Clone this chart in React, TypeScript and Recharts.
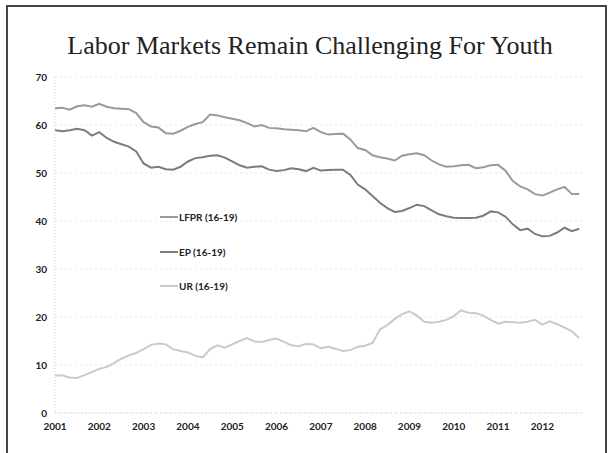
import { CartesianGrid, Legend, Line, LineChart, XAxis, YAxis } from 'recharts';

// bi-monthly readings, Jan 2001 .. Nov 2012
const startYear = 2001;
const stepYears = 2 / 12;

const years = [2001, 2002, 2003, 2004, 2005, 2006, 2007, 2008, 2009, 2010, 2011, 2012];
const yTicks = [0, 10, 20, 30, 40, 50, 60, 70];

const lfpr = [
  63.5, 63.6, 63.2, 63.9, 64.1, 63.8, 64.4, 63.8, 63.5, 63.4, 63.3, 62.5,
  60.6, 59.7, 59.5, 58.3, 58.2, 58.8, 59.6, 60.2, 60.6, 62.2, 62.0, 61.6,
  61.3, 61.0, 60.4, 59.7, 60.0, 59.4, 59.3, 59.1, 59.0, 58.9, 58.7, 59.4,
  58.5, 58.0, 58.1, 58.2, 57.0, 55.2, 54.8, 53.7, 53.3, 53.0, 52.6, 53.6,
  53.9, 54.1, 53.7, 52.6, 51.8, 51.3, 51.4, 51.6, 51.7, 51.0, 51.2, 51.6,
  51.7, 50.5, 48.3, 47.2, 46.6, 45.6, 45.3, 45.9, 46.6, 47.1, 45.6, 45.6,
];

const ep = [
  58.9, 58.7, 58.9, 59.2, 58.9, 57.8, 58.5, 57.3, 56.5, 56.0, 55.5, 54.5,
  52.0, 51.1, 51.3, 50.8, 50.7, 51.3, 52.4, 53.1, 53.3, 53.6, 53.7, 53.2,
  52.4, 51.6, 51.1, 51.3, 51.4, 50.7, 50.4, 50.6, 51.0, 50.8, 50.4, 51.1,
  50.5, 50.6, 50.7, 50.7, 49.6, 47.6, 46.6, 45.2, 43.8, 42.7, 41.9, 42.1,
  42.7, 43.4, 43.1, 42.2, 41.4, 41.0, 40.7, 40.6, 40.6, 40.7, 41.1, 42.0,
  41.8, 40.9, 39.3, 38.1, 38.4, 37.3, 36.8, 36.9, 37.6, 38.6, 37.9, 38.4,
];

const ur = [
  7.8, 7.8, 7.4, 7.3, 7.9, 8.5, 9.2, 9.6, 10.4, 11.3, 12.0, 12.5,
  13.3, 14.2, 14.5, 14.3, 13.3, 12.9, 12.6, 11.9, 11.6, 13.3, 14.1, 13.6,
  14.3, 15.0, 15.6, 14.9, 14.8, 15.2, 15.5, 14.8, 14.1, 13.9, 14.4, 14.3,
  13.5, 13.8, 13.4, 12.9, 13.1, 13.8, 14.0, 14.6, 17.4, 18.3, 19.6, 20.6,
  21.2, 20.3, 19.0, 18.8, 19.0, 19.4, 20.2, 21.4, 20.9, 20.8, 20.3, 19.4,
  18.6, 19.0, 18.9, 18.8, 19.0, 19.4, 18.4, 19.1, 18.5, 17.8, 17.0, 15.6,
];

const seriesInfo = [
  { key: 'lfpr', name: 'LFPR (16-19)', color: '#9a9a9a' },
  { key: 'ep', name: 'EP (16-19)', color: '#7c7c7c' },
  { key: 'ur', name: 'UR (16-19)', color: '#cacaca' },
];

const data = lfpr.map((v, i) => ({
  t: startYear + i * stepYears,
  lfpr: v,
  ep: ep[i],
  ur: ur[i],
}));

const tickFont = { fontFamily: 'Lato', fontWeight: 700, fontSize: 10, fill: '#222' };

function LegendBox() {
  return (
    <div style={{ fontFamily: 'Lato', fontWeight: 700, fontSize: 10, color: '#222' }}>
      {seriesInfo.map((s) => (
        <div key={s.key} style={{ height: 34.5, display: 'flex', alignItems: 'center' }}>
          <span
            style={{ display: 'inline-block', width: 18, height: 2, background: s.color, marginRight: 1 }}
          />
          <span>{s.name}</span>
        </div>
      ))}
    </div>
  );
}

export default function App() {
  return (
    <div style={{ position: 'absolute', left: 0, top: 0, width: 610, height: 453, background: '#fff' }}>
      <div
        style={{
          position: 'absolute',
          left: 6,
          top: 5,
          width: 597,
          height: 460,
          borderTop: '2px solid #444',
          borderLeft: '2px solid #444',
          borderRight: '2px solid #444',
        }}
      />
      <div
        style={{
          position: 'absolute',
          left: 0,
          top: 33,
          width: 620,
          textAlign: 'center',
          fontFamily: '"Liberation Serif", serif',
          fontSize: 26,
          lineHeight: '26px',
          color: '#222',
        }}
      >
        Labor Markets Remain Challenging For Youth
      </div>
      <LineChart
        width={610}
        height={453}
        data={data}
        margin={{ top: 77, right: 27, left: 25, bottom: 10 }}
        style={{ position: 'absolute', left: 0, top: 0 }}
      >
        <CartesianGrid vertical={false} stroke="#e6e6e6" strokeDasharray="2 3" />
        <XAxis
          type="number"
          dataKey="t"
          height={30}
          domain={[2001, 2012 + 11 / 12]}
          ticks={years}
          allowDataOverflow
          axisLine={{ stroke: '#cfcfcf', strokeDasharray: '1 2' }}
          tickLine={false}
          tickSize={0}
          tickMargin={10}
          tick={tickFont}
        />
        <YAxis
          width={30}
          domain={[0, 70]}
          ticks={yTicks}
          axisLine={{ stroke: '#cfcfcf', strokeDasharray: '1 2' }}
          tickLine={false}
          tickSize={0}
          tickMargin={8}
          tick={tickFont}
        />
        <Legend
          layout="vertical"
          align="center"
          verticalAlign="middle"
          content={() => <LegendBox />}
          wrapperStyle={{ left: 160, top: 200, width: 120 }}
        />
        {seriesInfo.map((s) => (
          <Line
            key={s.key}
            type="linear"
            dataKey={s.key}
            name={s.name}
            stroke={s.color}
            strokeWidth={2}
            dot={false}
            isAnimationActive={false}
          />
        ))}
      </LineChart>
    </div>
  );
}
